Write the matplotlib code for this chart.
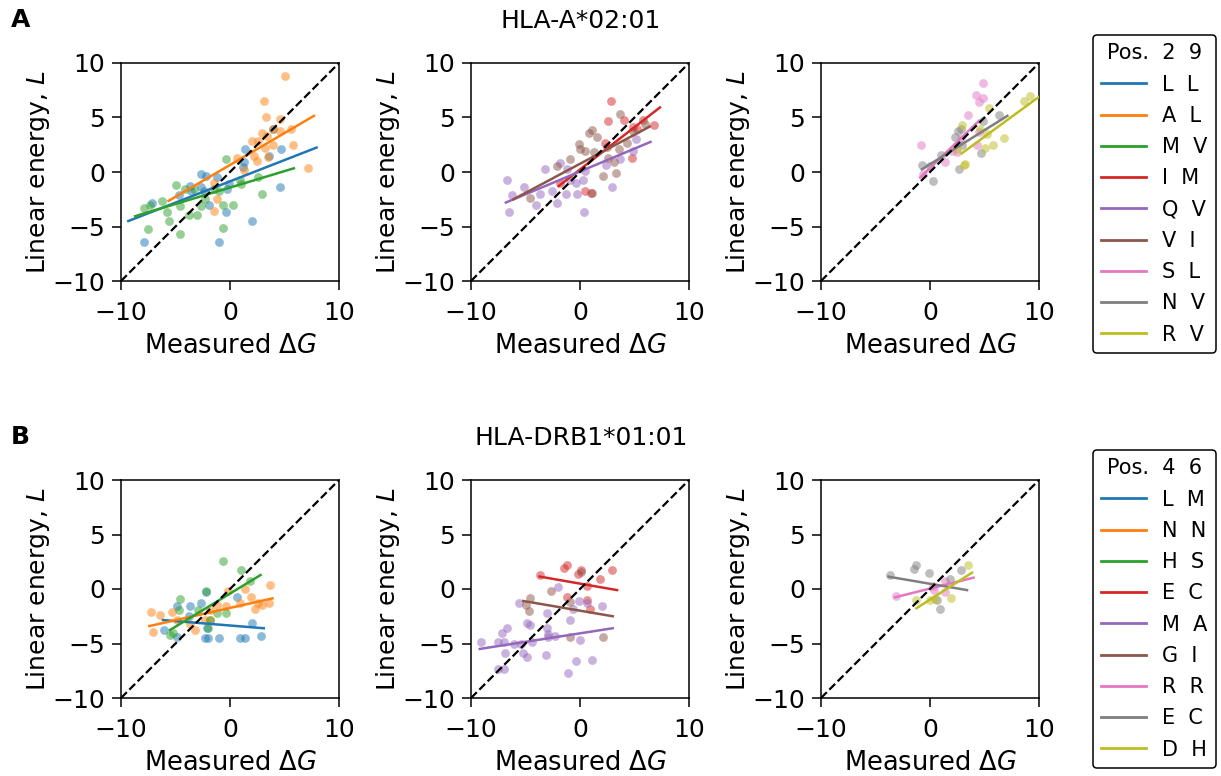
import matplotlib
matplotlib.use("Agg")
from matplotlib import pyplot as plt
from matplotlib.lines import Line2D

# ---------------- data ----------------
# Row A, HLA-A*02:01 (positions 2 and 9)
A_LL_x = [1.35, 3.96, 4.7, 3.6, 1.3, 1.2, -2.7, -2.2, -3.65, -2.7, -2.4, -1.2, -0.3, -0.1, -1.9, -0.4, 4.6, 2.0, -1.0, -7.9, -7.2, -4.7, -3.6]
A_LL_y = [2.1, 3.9, 2.1, 1.5, 0.9, 0.5, -0.2, -0.4, -1.3, -1.4, -1.7, -0.5, -1.6, -1.1, -3.0, -3.7, -1.35, -4.5, -6.4, -6.4, -2.8, -2.1, -1.75]
A_LL_fit = [-9.33, -4.5, 7.94, 2.24]

A_AL_x = [5.06, 3.13, 3.34, 4.6, 3.9, 2.9, 5.6, 4.6, 2.0, 2.6, 3.2, 3.9, 5.8, 2.2, 0.6, 2.5, 3.5, 7.2, -1.5, -1.5, -1.2, 1.3, 3.4]
A_AL_y = [8.77, 6.5, 5.0, 4.9, 3.9, 3.6, 3.9, 3.8, 2.8, 2.8, 2.2, 2.5, 2.5, 1.5, 1.3, 1.0, 1.4, 0.4, -1.0, -3.6, -2.5, 0.2, 3.3]
A_AL_fit = [-5.64, -2.65, 7.7, 5.15]

A_MV_x = [-0.4, -5.0, -4.1, -3.3, -6.2, -7.9, -7.3, -5.8, -5.6, -4.6, -3.8, -3.0, -2.3, -0.6, 0.3, -1.0, -0.6, -4.6, -7.5, 1.0, 2.6, 2.9, -1.5, -2.7, 0.95]
A_MV_y = [1.2, -1.2, -1.6, -1.6, -2.7, -3.3, -3.0, -3.7, -4.5, -3.1, -3.9, -3.9, -2.5, -3.0, -3.0, -1.75, -5.1, -5.7, -5.2, -1.1, -0.5, -2.0, -1.6, -3.1, -0.7]
A_MV_fit = [-8.7, -4.05, 5.86, 0.34]

A_IM_x = [2.8, 2.6, 4.0, 4.9, 6.8, 5.8, 2.3, 2.5, 4.8, 0.5, 1.0, -1.8, 5.2]
A_IM_y = [6.5, 4.7, 4.8, 4.1, 4.3, 4.8, 2.7, 2.3, 1.3, -1.75, -1.95, -1.0, 3.9]
A_IM_fit = [-1.96, -1.29, 7.33, 5.92]

A_QV_x = [-6.7, -6.2, -5.1, -6.5, -4.0, -3.65, -3.2, -2.6, -1.8, -2.1, -1.2, -0.9, -0.4, -1.3, -0.3, 0.3, 0.5, 0.4, 2.4, 2.9, 5.1, 4.9, 3.7]
A_QV_y = [-0.7, -2.1, -1.4, -3.7, -3.0, -2.0, 0.25, -1.75, 0.85, -2.8, 0.25, -0.7, -1.0, -2.05, -2.05, -0.7, 0.1, -3.7, 0.6, -1.4, 3.0, 1.9, 1.2]
A_QV_fit = [-6.8, -2.8, 6.47, 2.76]

A_VI_x = [3.65, 1.1, 0.8, 1.6, -0.1, 0.0, 0.5, 1.3, 3.6, 4.3, 4.9, 6.0, 3.1, 3.3, 2.1, -2.1, -4.6, -0.9, 1.1, 2.6]
A_VI_y = [5.3, 3.85, 3.6, 3.25, 2.6, 2.1, 1.9, 1.8, 2.1, 2.7, 3.8, 4.4, 0.9, -0.1, -0.4, 0.55, -2.4, 1.2, -1.9, 1.3]
A_VI_fit = [-6.1, -2.5, 6.4, 4.17]

A_SL_x = [4.9, 4.2, 4.9, 4.5, 3.5, -0.8, 4.5, 4.3, 2.5, 2.0, 1.4, 2.8, -0.6]
A_SL_y = [8.2, 7.1, 6.75, 6.4, 5.2, 2.5, 3.7, 2.5, 1.8, 1.9, 0.9, 3.0, -0.2]
A_SL_fit = [-0.9, -0.5, 4.5, 4.7]

A_NV_x = [-0.74, 0.3, 1.0, 2.6, 2.8, 2.3, 2.7, 4.7, 6.3, 4.9, 2.9, 0.0]
A_NV_y = [0.6, -0.8, 1.6, 3.8, 3.9, 3.2, 0.3, 1.7, 5.2, 4.7, 2.5, 0.55]
A_NV_fit = [-0.74, 0.25, 7.1, 5.15]

A_RV_x = [2.9, 5.4, 8.6, 9.2, 5.0, 5.8, 6.8, 5.2, 3.2, 3.1, 4.6, 2.5]
A_RV_y = [4.3, 5.9, 6.5, 7.0, 2.2, 2.5, 3.1, 3.45, 0.75, 0.6, 3.9, 2.1]
A_RV_fit = [2.9, 1.7, 10.0, 6.9]

# Row B, HLA-DRB1*01:01 (positions 4 and 6)
B_LM_x = [-4.9, -3.65, -2.7, -2.2, -3.8, -6.1, -4.9, -2.3, -2.0, -1.0, -2.1, 0.65, 0.95, 1.4, 2.0, 2.8]
B_LM_y = [-1.55, -1.6, -1.3, -0.25, -2.5, -3.8, -4.4, -4.45, -4.45, -4.45, -3.6, -0.7, -4.45, -4.45, -3.15, -4.3]
B_LM_fit = [-6.15, -2.85, 3.1, -3.6]

B_NN_x = [-7.25, -6.45, -7.1, -5.3, -4.9, -3.25, -3.65, -2.3, -1.8, -1.8, -1.2, -0.2, -0.4, 1.4, 1.9, 0.95, 2.3, 2.95, 3.55, 3.65, 2.6]
B_NN_y = [-2.1, -2.4, -3.9, -2.1, -2.85, -3.75, -3.2, -2.85, -2.85, -1.9, -1.5, -0.15, -1.6, 0.0, -0.75, -1.3, -1.8, -1.45, -1.3, 0.35, -1.3]
B_NN_fit = [-7.4, -3.4, 3.9, -0.86]

B_HS_x = [-0.6, 1.0, 1.8, -2.2, -4.6, -4.7, -2.9, -1.2, -0.4, -5.5, -5.2, -2.0, -1.8]
B_HS_y = [2.6, 1.75, 0.75, -0.15, -0.95, -1.9, -1.9, -2.2, -2.2, -4.2, -4.0, -3.6, -2.85]
B_HS_fit = [-5.5, -3.76, 2.8, 1.28]

B_EC_x = [-3.7, -1.2, -1.45, -0.2, 0.1, 1.8, 2.9, 0.6, -1.2, 0.65, 0.95]
B_EC_y = [1.3, 2.2, 1.9, 1.4, 1.7, 0.9, 1.75, 0.3, -0.7, -1.05, -1.8]
B_EC_fit = [-3.7, 1.14, 3.4, -0.1]

B_MA_x = [-2.0, -5.6, -4.9, -4.6, -3.0, -0.9, -0.1, -0.6, 0.6, 2.0, -9.1, -7.5, -7.0, -7.2, -6.7, -6.9, -7.5, -7.0, -5.4, -5.2, -4.9, -4.4, -3.0, -2.9, -2.9, -2.3, -3.1, -0.4, 1.1, -1.1, 0.0, -6.1]
B_MA_y = [0.15, -1.25, -3.1, -3.3, -2.2, -2.8, -1.1, -1.8, -1.3, -1.55, -4.85, -4.85, -4.85, -4.05, -3.6, -5.9, -7.3, -7.3, -5.0, -5.9, -6.2, -4.85, -3.6, -4.1, -4.4, -4.3, -6.1, -6.6, -6.5, -7.7, -4.7, -5.0]
B_MA_fit = [-9.2, -5.5, 3.0, -3.6]

B_GI_x = [-2.7, -4.6, -5.0, -4.7, -0.9, -0.9, 2.1, 0.1]
B_GI_y = [-0.15, -0.85, -1.5, -2.0, -1.15, -4.4, -4.4, 1.6]
B_GI_fit = [-5.2, -1.1, 3.0, -2.5]

B_RR_x = [-3.1, 0.4, 1.4, 1.4, 0.3]
B_RR_y = [-0.65, -0.05, 0.75, -0.25, 0.3]
B_RR_fit = [-3.2, -0.76, 4.0, 1.04]

B_EC2_x = [-3.7, -1.25, -1.45, -0.1, 2.85, 1.8, 0.6, 0.9]
B_EC2_y = [1.3, 2.2, 1.85, 1.45, 1.75, 0.9, -1.05, -1.85]
B_EC2_fit = [-3.8, 1.13, 3.4, -0.1]

B_DH_x = [-1.25, 0.0, 0.5, 1.9, 3.45]
B_DH_y = [-1.0, -1.0, -0.95, -0.85, 2.2]
B_DH_fit = [-1.25, -1.77, 3.86, 1.5]

A_labels = ["L  L", "A  L", "M  V", "I  M", "Q  V", "V  I", "S  L", "N  V", "R  V"]
B_labels = ["L  M", "N  N", "H  S", "E  C", "M  A", "G  I", "R  R", "E  C", "D  H"]

COLORS = ['#1f77b4', '#ff7f0e', '#2ca02c', '#d62728', '#9467bd',
          '#8c564b', '#e377c2', '#7f7f7f', '#bcbd22']


def draw_panel(ax, groups, colors):
    for (x, y, fit), c in zip(groups, colors):
        ax.scatter(x, y, s=40, color=c, alpha=0.5, linewidths=0, zorder=2)
    for (x, y, fit), c in zip(groups, colors):
        ax.plot([fit[0], fit[2]], [fit[1], fit[3]], color=c, lw=1.8, zorder=3)
    ax.plot([-10, 10], [-10, 10], 'k--', lw=1.6, zorder=4)
    ax.set_xlim(-10, 10)
    ax.set_ylim(-10, 10)
    ax.set_xticks([-10, 0, 10])
    ax.set_yticks([-10, -5, 0, 5, 10])
    ax.tick_params(labelsize=18, width=1.1, length=6.5)
    ax.tick_params(axis='x', pad=8)
    ax.tick_params(axis='y', pad=5)
    for s in ax.spines.values():
        s.set_linewidth(1.1)
    ax.set_xlabel(r"Measured $\Delta G$", fontsize=18.5, labelpad=6)
    ax.set_ylabel(r"Linear energy, $L$", fontsize=18, labelpad=0)


def main():
    fig = plt.figure(figsize=(12.21, 7.76), dpi=100)

    rows = {
        'A': [[(A_LL_x, A_LL_y, A_LL_fit), (A_AL_x, A_AL_y, A_AL_fit), (A_MV_x, A_MV_y, A_MV_fit)],
              [(A_IM_x, A_IM_y, A_IM_fit), (A_QV_x, A_QV_y, A_QV_fit), (A_VI_x, A_VI_y, A_VI_fit)],
              [(A_SL_x, A_SL_y, A_SL_fit), (A_NV_x, A_NV_y, A_NV_fit), (A_RV_x, A_RV_y, A_RV_fit)]],
        'B': [[(B_LM_x, B_LM_y, B_LM_fit), (B_NN_x, B_NN_y, B_NN_fit), (B_HS_x, B_HS_y, B_HS_fit)],
              [(B_EC_x, B_EC_y, B_EC_fit), (B_MA_x, B_MA_y, B_MA_fit), (B_GI_x, B_GI_y, B_GI_fit)],
              [(B_RR_x, B_RR_y, B_RR_fit), (B_EC2_x, B_EC2_y, B_EC2_fit), (B_DH_x, B_DH_y, B_DH_fit)]],
    }
    bottoms = {'A': 1 - 281 / 776, 'B': 1 - 698 / 776}
    lefts = [121 / 1221, 471 / 1221, 821 / 1221]
    w, h = 218 / 1221, 218 / 776

    for row, panels in rows.items():
        for i, groups in enumerate(panels):
            ax = fig.add_axes([lefts[i], bottoms[row], w, h])
            draw_panel(ax, groups, COLORS[3 * i:3 * i + 3])

    # titles and panel letters
    fig.text(581 / 1221, 1 - 21 / 776, "HLA-A*02:01", ha='center', va='center', fontsize=18)
    fig.text(581 / 1221, 1 - 438 / 776, "HLA-DRB1*01:01", ha='center', va='center', fontsize=18)
    fig.text(11 / 1221, 1 - 20 / 776, "A", ha='left', va='center', fontsize=18, fontweight='heavy')
    fig.text(11 / 1221, 1 - 437 / 776, "B", ha='left', va='center', fontsize=18, fontweight='heavy')

    # legends
    for labels, title, top in [(A_labels, "Pos.  2  9", 35), (B_labels, "Pos.  4  6", 450)]:
        handles = [Line2D([], [], color=c, lw=2) for c in COLORS]
        leg = fig.legend(handles, labels, title=title, loc='upper right',
                         bbox_to_anchor=(1216 / 1221, 1 - top / 776),
                         fontsize=15, title_fontsize=15, handlelength=2.15,
                         labelspacing=0.54, fancybox=True, framealpha=1,
                         edgecolor='black', borderpad=0.4, borderaxespad=0)
        leg.get_frame().set_linewidth(1.1)

    fig.savefig("out.png", dpi=100)


if __name__ == "__main__":
    main()
